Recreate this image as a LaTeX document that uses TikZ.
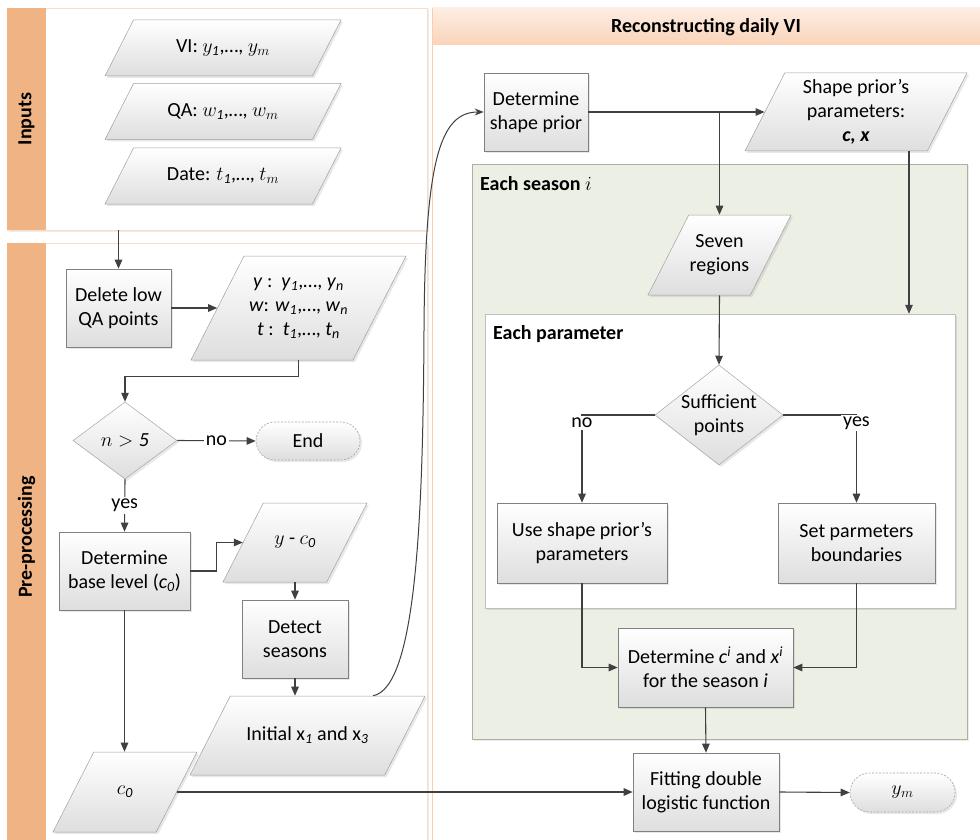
\RequirePackage{fix-cm}
\documentclass[tikz,border=0pt]{standalone}
\usepackage{fontspec}
\setmainfont{Carlito}
\usepackage{tikz}
\usetikzlibrary{shapes.geometric,shapes.misc,shadows,arrows.meta}
\definecolor{PanelBar}{RGB}{240,179,131}
\definecolor{PanelLine}{RGB}{248,206,176}
\definecolor{HeadTop}{RGB}{253,238,228}
\definecolor{HeadBottom}{RGB}{249,211,184}
\definecolor{SeasonFill}{RGB}{236,239,228}
\definecolor{SeasonLine}{RGB}{172,176,162}
\definecolor{BoxLine}{RGB}{128,128,128}
\definecolor{ArrowGray}{RGB}{64,64,64}
\newcommand\flowfont{\fontsize{20}{24}\selectfont}

\begin{document}
\begin{tikzpicture}[x=1pt,y=-1pt,font=\flowfont,
  boxfill/.style={top color=white,bottom color=black!13,drop shadow={shadow xshift=2pt,shadow yshift=-2pt,opacity=0.18}},
  proc/.style n args={2}{boxfill,draw=BoxLine,line width=0.6pt,rectangle,minimum width=#1pt,minimum height=#2pt,inner sep=0pt,align=center},
  io text/.style={align=center},
  io/.style n args={3}{boxfill,draw=BoxLine!75,line width=0.5pt,trapezium,trapezium left angle=63,trapezium right angle=117,trapezium stretches body=true,minimum width=#1pt,inner xsep=0pt,inner ysep=#2pt/2,label={[io text]center:#3}},
  dec/.style n args={2}{boxfill,draw=BoxLine!70,line width=0.5pt,diamond,minimum width=#1pt,minimum height=#2pt,inner sep=0pt,align=center},
  term/.style n args={2}{boxfill,draw=BoxLine!70,line width=0.6pt,dash pattern=on 2pt off 1.5pt,rounded rectangle,minimum width=#1pt,minimum height=#2pt,inner sep=0pt},
  panel/.style={draw=PanelLine!70,fill=white,drop shadow={shadow xshift=1.5pt,shadow yshift=-1.5pt,opacity=0.15}},
  arr/.style={draw=ArrowGray,line width=1.1pt,-{Triangle[length=9pt,width=7.5pt]}},
  lbl/.style={fill=white,inner sep=2pt}]
\useasboundingbox (0,0) rectangle (980,840);
\fill[white] (0,0) rectangle (980,840);
% panels
\node[panel,minimum width=420pt,minimum height=222pt] (inputs) at (217,119) {};
\node[panel,minimum width=420pt,minimum height=610pt] (prep) at (217,548) {};
\fill[PanelBar] (7,8) rectangle (46,230);
\fill[PanelBar] (7,243) rectangle (46,840);
\node[font=\flowfont\bfseries,rotate=90] (lin) at (26.5,119) {Inputs};
\node[font=\flowfont\bfseries,rotate=90] (lpre) at (26.5,537) {Pre-processing};
\shade[top color=HeadTop,bottom color=HeadBottom] (432,8) rectangle (980,45);
\draw[PanelLine,line width=1pt] (432,8) -- (432,840);
\node[font=\flowfont\bfseries] (title) at (706,27) {Reconstructing daily VI};
\node[draw=SeasonLine,fill=SeasonFill,minimum width=495pt,minimum height=575pt,drop shadow={shadow xshift=1.5pt,shadow yshift=-1.5pt,opacity=0.15}] (season) at (719.5,451.5) {};
\node[font=\flowfont\bfseries,anchor=west,inner sep=0pt] (lseason) at (480,184) {Each season $i$};
\node[draw=black!25,fill=white,minimum width=470pt,minimum height=294pt,drop shadow={shadow xshift=2pt,shadow yshift=-2pt,opacity=0.2}] (param) at (720,461) {};
\node[font=\flowfont\bfseries,anchor=west,inner sep=0pt] (lparam) at (493,334) {Each parameter};
% inputs
\foreach \n/\y/\t in {0/48/{VI: $y_{\mathit{1}}$,…, $y_m$},1/111.5/{QA: $w_{\mathit{1}}$,…, $w_m$},2/176/{Date: $t_{\mathit{1}}$,…, $t_m$}} {
   \node[io={236}{56}{\t}](in\n) at (223,\y) {};
}
% pre-processing
\node[proc={105}{78}](del) at (118.5,308) {Delete low\\QA points};
\node[io={215}{104}{\textit{y} :~~\textit{y}\textsubscript{\textit{1}},…, \textit{y}\textsubscript{\textit{n}}\\\textit{w}: \textit{w}\textsubscript{\textit{1}},…, \textit{w}\textsubscript{\textit{n}}\\\textit{t} :~~\textit{t}\textsubscript{\textit{1}},…, \textit{t}\textsubscript{\textit{n}}},io text/.style={align=left}](yw) at (298.5,308) {};
\node[dec={104}{77}](d1) at (125,440.5) {$n > \mathit{5}$};
\node[term={104}{38}](finish) at (308,441) {End};
\node[proc={131}{78}](base) at (124.5,571) {Determine\\base level (\textit{c}\textsubscript{\textit{0}})};
\node[io={144}{79}{$y$ - $c_{\mathit{0}}$}](yc) at (295,542.5) {};
\node[proc={106}{78}](det) at (295,639) {Detect\\seasons};
\node[io={235}{79}{Initial x\textsubscript{\textit{1}} and x\textsubscript{\textit{3}}}](init) at (307.5,735.5) {};
\node[io={144}{80}{$c_{\mathit{0}}$}](c0) at (125,792) {};
% reconstruction
\node[proc={104}{78}](sp) at (536,112) {Determine\\shape prior};
\node[io={222}{78}{Shape prior’s\\parameters:\\\textbf{\textit{c, x}}}](spp) at (856,112) {};
\node[io={143}{80}{Seven\\regions}](seven) at (719.5,255) {};
\node[dec={128}{100},label={[align=center]center:Sufficient\\points}](d2) at (719,415) {};
\node[proc={170}{80}](use) at (582,543) {Use shape prior’s\\parameters};
\node[proc={157}{80}](set) at (856.5,543) {Set parmeters\\boundaries};
\node[proc={175}{79}](ci) at (705.5,667.5) {Determine \textit{c}\textsuperscript{\textit{i}} and \textit{x}\textsuperscript{\textit{i}}\\for the season \textit{i}};
\node[proc={146}{78}](fit) at (706,792) {Fitting double\\logistic function};
\node[term={105}{39}](ym) at (902.5,792.5) {$y_m$};
% connectors
\draw[arr] (inputs.south -| del.north) -- (del.north);
\draw[arr] (del.east) -- (yw.west);
\draw[arr] (yw.center |- yw.south) -- ++(0,16) -| (d1.north);
\draw[arr] (d1.east) -- node[lbl]{no} (finish.west);
\draw[arr] (d1.south) -- node[lbl]{yes} (base.north);
\draw[arr] (base.east) -- ++(26,0) |- (yc.west);
\draw[arr] (det.north |- yc.south) -- (det.north);
\draw[arr] (det.south) -- (det.south |- init.north);
\draw[arr] (base.south) -- (base.south |- c0.north);
\draw[arr] (c0.east) -- (fit.west);
\draw[draw=ArrowGray,line width=1pt,-{Stealth[length=9pt,width=7pt]}] ([xshift=65.5pt]init.north) .. controls (416,688) and (423,520) .. (424,330) .. controls (425,160) and (440,112) .. (sp.west);
\draw[arr] (sp.east) -- (spp.west);
\draw[arr] (seven.north |- sp.east) -- (seven.north);
\draw[arr] ([xshift=53pt]spp.south) -- ([xshift=53pt]spp.south |- param.north);
\draw[arr] (seven.south) -- (d2.north);
\draw[arr] (d2.west) -| node[lbl,pos=0.5,yshift=-8pt]{no} (use.north);
\draw[arr] (d2.east) -| node[lbl,pos=0.5,yshift=-8pt]{yes} (set.north);
\draw[arr] (use.south) |- (ci.west);
\draw[arr] (set.south) |- (ci.east);
\draw[arr] (ci.south) -- (fit.north);
\draw[arr] (fit.east) -- (ym.west);
\end{tikzpicture}
\end{document}
